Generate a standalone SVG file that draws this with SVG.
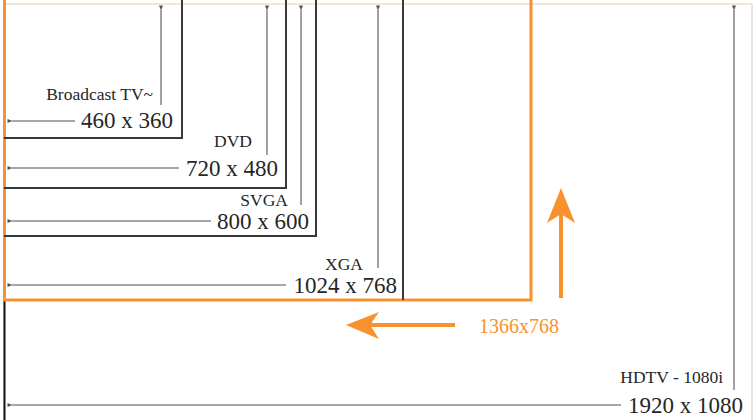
<svg xmlns="http://www.w3.org/2000/svg" width="754" height="420" viewBox="0 0 754 420">
<defs>
<marker id="ga" viewBox="0 0 10 10" refX="1" refY="5" markerWidth="6" markerHeight="5" orient="auto-start-reverse" markerUnits="userSpaceOnUse"><path d="M0,5 L10,1 L10,9 Z" fill="#555"/></marker>
</defs>
<style>
.box{fill:none;stroke:#3a3a3a;stroke-width:2}
.obox{fill:none;stroke:#f7922e;stroke-width:3}
.dim{fill:none;stroke:#8a8a8a;stroke-width:1.6}
.big{font-family:"Liberation Serif","Times New Roman",serif;font-size:23px;fill:#262626;text-anchor:end}
.small{font-family:"Liberation Serif","Times New Roman",serif;font-size:17.5px;fill:#262626;text-anchor:end}
.olab{font-family:"Liberation Serif","Times New Roman",serif;font-size:20px;fill:#f7922e}
</style>
<rect width="754" height="420" fill="#ffffff"/>
<g id="hdtv">
<path d="M4,425 L4,4 L752,4 L752,425" fill="none" stroke="#c8c8c8" stroke-width="1"/>
<line x1="4" y1="4" x2="752" y2="4" stroke="#fde6cc" stroke-width="1.5"/>
<line x1="4.5" y1="300" x2="4.5" y2="420" stroke="#111" stroke-width="2"/>
<text class="small" x="723" y="383">HDTV - 1080i</text>
<text class="big" x="743" y="413">1920 x 1080</text>
</g>
<g id="r1366">
<path class="obox" d="M4.5,-2 L4.5,300 L531,300 L531,-2"/>
<text class="olab" x="479" y="333">1366x768</text>
</g>
<g id="xga">
<path class="box" d="M403,-2 L403,300"/>
<text class="small" x="363" y="270">XGA</text>
<text class="big" x="397" y="293">1024 x 768</text>
</g>
<g id="svga">
<path class="box" d="M4,236 L316,236 L316,-2"/>
<text class="small" x="288" y="206">SVGA</text>
<text class="big" x="309" y="229">800 x 600</text>
</g>
<g id="dvd">
<path class="box" d="M4,188 L286,188 L286,-2"/>
<text class="small" x="252" y="147">DVD</text>
<text class="big" x="278" y="176">720 x 480</text>
</g>
<g id="tv">
<path class="box" d="M4,138 L182,138 L182,-2"/>
<text class="small" x="153" y="100">Broadcast TV~</text>
<text class="big" x="173" y="128">460 x 360</text>
</g>
<g id="connectors">
<line class="dim" x1="75" y1="121" x2="12" y2="121" marker-end="url(#ga)"/>
<line class="dim" x1="161" y1="105" x2="161" y2="10" marker-end="url(#ga)"/>
<line class="dim" x1="179" y1="168" x2="12" y2="168" marker-end="url(#ga)"/>
<line class="dim" x1="267" y1="155" x2="267" y2="10" marker-end="url(#ga)"/>
<line class="dim" x1="211" y1="221" x2="12" y2="221" marker-end="url(#ga)"/>
<line class="dim" x1="301" y1="205" x2="301" y2="10" marker-end="url(#ga)"/>
<line class="dim" x1="286" y1="285" x2="12" y2="285" marker-end="url(#ga)"/>
<line class="dim" x1="378" y1="268" x2="378" y2="10" marker-end="url(#ga)"/>
<line class="dim" x1="621" y1="405" x2="12" y2="405" marker-end="url(#ga)"/>
<line class="dim" x1="734" y1="390" x2="734" y2="10" marker-end="url(#ga)"/>
<line x1="561" y1="298" x2="561" y2="210" stroke="#f7922e" stroke-width="4"/>
<path d="M561,188 L575,223 L561,214 L547,223 Z" fill="#f7922e"/>
<line x1="455" y1="325" x2="370" y2="325" stroke="#f7922e" stroke-width="4"/>
<path d="M346,325 L379,312 L370,325 L379,339 Z" fill="#f7922e"/>
</g>
</svg>
